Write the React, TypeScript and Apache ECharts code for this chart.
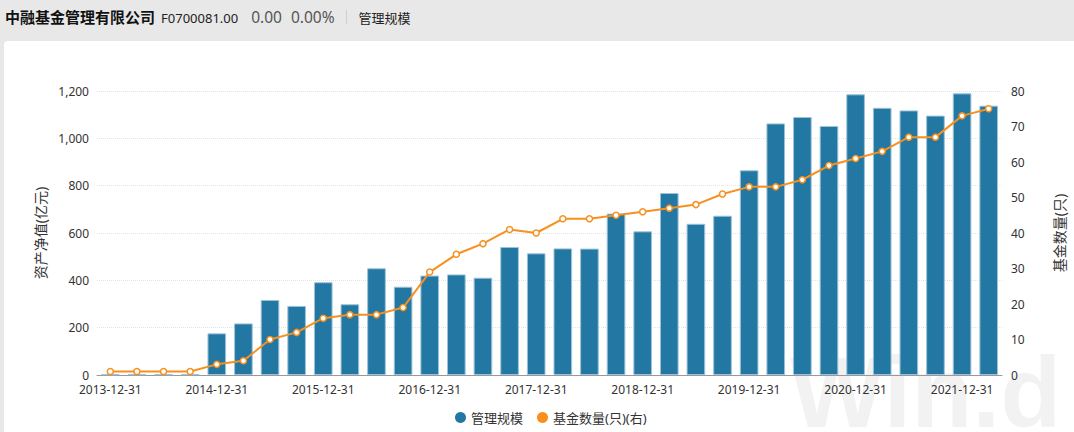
import React, { useEffect, useRef } from "react";
import * as echarts from "echarts";

const categories = [
  "2013-12-31", "2014-03-31", "2014-06-30", "2014-09-30",
  "2014-12-31", "2015-03-31", "2015-06-30", "2015-09-30",
  "2015-12-31", "2016-03-31", "2016-06-30", "2016-09-30",
  "2016-12-31", "2017-03-31", "2017-06-30", "2017-09-30",
  "2017-12-31", "2018-03-31", "2018-06-30", "2018-09-30",
  "2018-12-31", "2019-03-31", "2019-06-30", "2019-09-30",
  "2019-12-31", "2020-03-31", "2020-06-30", "2020-09-30",
  "2020-12-31", "2021-03-31", "2021-06-30", "2021-09-30",
  "2021-12-31", "2022-03-31",
];

const scaleValues = [
  3, 3, 3, 3,
  176, 218, 317, 292,
  392, 299, 451, 373,
  420, 425, 411, 541,
  514, 535, 534, 682,
  607, 769, 639, 673,
  865, 1063, 1090, 1052,
  1186, 1129, 1118, 1096,
  1190, 1138,
];

const fundCounts = [
  1, 1, 1, 1,
  3, 4, 10, 12,
  16, 17, 17, 19,
  29, 34, 37, 41,
  40, 44, 44, 45,
  46, 47, 48, 51,
  53, 53, 55, 59,
  61, 63, 67, 67,
  73, 75,
];

const leftTicks = [0, 200, 400, 600, 800, 1000, 1200];
const rightTicks = [0, 10, 20, 30, 40, 50, 60, 70, 80];

const FONT = "'Noto Sans', 'Noto Sans CJK SC', sans-serif";

const watermarkSvg =
  "data:image/svg+xml;charset=utf-8," +
  encodeURIComponent(
    '<svg xmlns="http://www.w3.org/2000/svg" width="300" height="140">' +
      '<text x="0" y="110" font-family="Liberation Sans, Arial, sans-serif" font-weight="bold" font-size="100" fill="#000" fill-opacity="0.05">Win.d</text>' +
      "</svg>"
  );

export default function App() {
  const ref = useRef<HTMLDivElement>(null);

  useEffect(() => {
    document.body.style.margin = "0";
    if (!ref.current) return;
    const chart = echarts.init(ref.current, undefined, { renderer: "svg" });
    chart.setOption({
      animation: false,
      textStyle: { fontFamily: FONT },
      graphic: [
        {
          type: "image",
          left: 786,
          top: 276,
          z: -10,
          silent: true,
          style: { image: watermarkSvg, width: 300, height: 140 },
        },
      ],
      legend: {
        left: 446,
        bottom: 3,
        icon: "circle",
        itemWidth: 11,
        itemHeight: 11,
        itemGap: 14,
        textStyle: { fontSize: 13, color: "#333", fontFamily: FONT },
        data: [
          { name: "管理规模", itemStyle: { color: "#2377a3", borderWidth: 0 } },
          { name: "基金数量(只)(右)", itemStyle: { color: "#f7901e", borderWidth: 0 } },
        ],
      },
      grid: { left: 93, right: 56, top: 50, bottom: 57 },
      xAxis: {
        type: "category",
        data: categories,
        boundaryGap: true,
        axisLine: { lineStyle: { color: "#999" } },
        axisTick: { alignWithLabel: true, interval: 3, length: 5, lineStyle: { color: "#999" } },
        axisLabel: { interval: 3, color: "#333", fontSize: 12, margin: 8 },
      },
      yAxis: [
        {
          type: "value",
          min: leftTicks[0],
          max: leftTicks[leftTicks.length - 1],
          interval: 200,
          name: "资产净值(亿元)",
          nameLocation: "middle",
          nameGap: 50,
          nameTextStyle: { fontSize: 14, color: "#333" },
          axisLine: { show: false },
          axisTick: { show: false },
          axisLabel: {
            color: "#333",
            fontSize: 12,
            margin: 8,
            formatter: (v: number) => v.toLocaleString("en-US"),
          },
          splitLine: { lineStyle: { color: "#dde4ee", type: "dotted" } },
        },
        {
          type: "value",
          min: rightTicks[0],
          max: rightTicks[rightTicks.length - 1],
          interval: 10,
          name: "基金数量(只)",
          nameLocation: "middle",
          nameGap: 50,
          nameTextStyle: { fontSize: 14, color: "#333" },
          axisLine: { show: false },
          axisTick: { show: false },
          axisLabel: { color: "#333", fontSize: 12, margin: 9 },
          splitLine: { show: false },
        },
      ],
      series: [
        {
          name: "管理规模",
          type: "bar",
          data: scaleValues,
          barWidth: "70%",
          itemStyle: { color: "#2377a3", borderColor: "#9cc3d8", borderWidth: 1 },
        },
        {
          name: "基金数量(只)(右)",
          type: "line",
          yAxisIndex: 1,
          data: fundCounts,
          symbol: "circle",
          symbolSize: 6,
          lineStyle: { color: "#f7901e", width: 2 },
          itemStyle: { color: "#fff", borderColor: "#f7901e", borderWidth: 1.5 },
        },
      ],
    });
    return () => chart.dispose();
  }, []);

  return (
    <div
      style={{
        position: "relative",
        width: 1074,
        height: 432,
        background: "#e8e8e8",
        overflow: "hidden",
        fontFamily: FONT,
      }}
    >
      <div
        style={{
          position: "absolute",
          left: 5,
          top: 6,
          height: 22,
          display: "flex",
          alignItems: "baseline",
          whiteSpace: "nowrap",
          color: "#111",
        }}
      >
        <span style={{ fontSize: 15, fontWeight: "bold", fontFamily: "'Noto Sans CJK SC', sans-serif" }}>
          中融基金管理有限公司
        </span>
        <span style={{ fontSize: 13, marginLeft: 6, color: "#222" }}>F0700081.00</span>
        <span style={{ fontSize: 15.5, marginLeft: 13, color: "#555" }}>0.00</span>
        <span style={{ fontSize: 15.5, marginLeft: 9, color: "#555" }}>0.00%</span>
        <span
          style={{
            display: "inline-block",
            width: 1,
            height: 14,
            background: "#d0d0d0",
            marginLeft: 11,
            marginRight: 12,
            alignSelf: "center",
          }}
        />
        <span style={{ fontSize: 13, color: "#222", fontFamily: "'Noto Sans CJK SC', sans-serif" }}>管理规模</span>
      </div>
      <div
        style={{
          position: "absolute",
          left: 4,
          top: 41,
          width: 1070,
          height: 391,
          background: "#fff",
          borderTopLeftRadius: 4,
        }}
      >
        <div ref={ref} style={{ width: 1070, height: 391 }} />
      </div>
    </div>
  );
}
